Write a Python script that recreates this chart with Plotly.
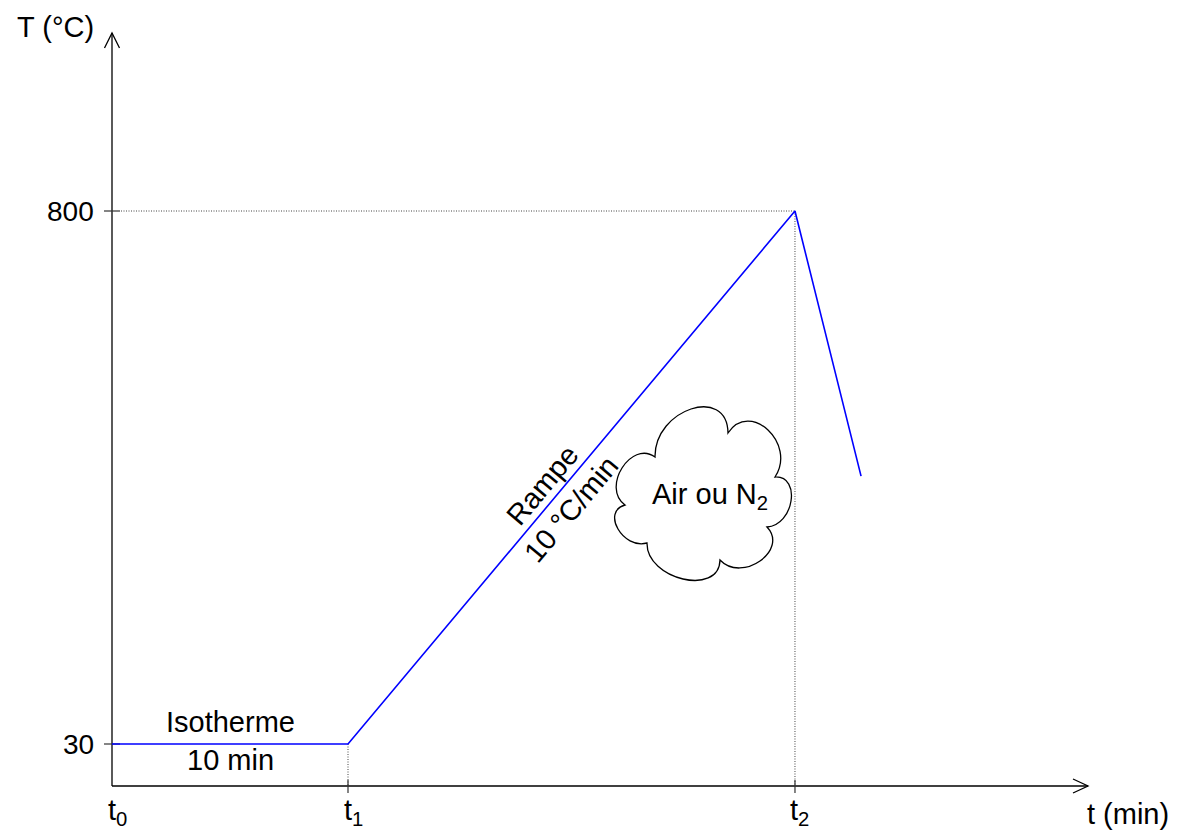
import plotly.graph_objects as go

# ---- data (schematic thermal programme) ----
time_pts = [0, 10, 28.94, 31.74]        # t0, t1, t2, end of cooling (schematic units)
temp_pts = [30, 30, 800, 417]           # °C
tick_times = [0, 10, 28.94]
tick_time_labels = ["t<sub>0</sub>", "t<sub>1</sub>", "t<sub>2</sub>"]
temp_ticks = [30, 800]
temp_tick_labels = ["30", "800"]

# ---- scale helpers (pixel <-> data for decorations) ----
W, H = 1179, 830
X0PX = 112.0
PXX = 23.6             # pixels per time unit
Y30PX = 744.0
PXT = 533.0 / 770.0    # pixels per °C


def px_x(px):
    return (px - X0PX) / PXX


def px_T(py):
    return 30 + (Y30PX - py) / PXT


def dx(p):
    return p / PXX


def dT(p):
    return p / PXT


T_axis = px_T(786)
T_top = px_T(33)
x_end = px_x(1088)

FONT = dict(family="Liberation Sans, Arial, sans-serif", size=29, color="black")
NUMFONT = dict(family="Liberation Sans, Arial, sans-serif", size=28, color="black")
AX = dict(color="black", width=1.3)

fig = go.Figure()
fig.add_trace(go.Scatter(x=time_pts, y=temp_pts, mode="lines",
                         line=dict(color="#0000ff", width=1.6),
                         hoverinfo="skip", showlegend=False))

shapes = []
# axes
shapes.append(dict(type="line", x0=0, x1=0, y0=T_axis, y1=T_top, line=AX, layer="below"))
shapes.append(dict(type="line", x0=0, x1=x_end, y0=T_axis, y1=T_axis, line=AX, layer="below"))
# arrow heads (open chevrons)
shapes.append(dict(type="path", layer="below", line=AX,
                   path=f"M{-dx(7.5)},{T_top - dT(15)} L0,{T_top} L{dx(7.5)},{T_top - dT(15)}"))
shapes.append(dict(type="path", layer="below", line=AX,
                   path=f"M{x_end - dx(15)},{T_axis + dT(7)} L{x_end},{T_axis} L{x_end - dx(15)},{T_axis - dT(7)}"))
# ticks
for T in temp_ticks:
    shapes.append(dict(type="line", layer="below", x0=-dx(8), x1=dx(8), y0=T, y1=T,
                       line=dict(color="#333", width=1.2)))
for t in tick_times[1:]:
    shapes.append(dict(type="line", layer="below", x0=t, x1=t, y0=T_axis - dT(7), y1=T_axis + dT(6),
                       line=dict(color="#333", width=1.2)))
# dotted guides
DOT = dict(color="#444", width=1, dash="1px,1.5px")
shapes.append(dict(type="line", layer="below", x0=dx(9), x1=time_pts[2], y0=temp_pts[2], y1=temp_pts[2], line=DOT))
shapes.append(dict(type="line", layer="below", x0=time_pts[2], x1=time_pts[2], y0=temp_pts[2], y1=T_axis, line=DOT))
shapes.append(dict(type="line", layer="below", x0=time_pts[1], x1=time_pts[1], y0=temp_pts[1], y1=T_axis, line=DOT))

# cloud outline (notches and bump apexes in pixels)
notches = [(655, 457), (728, 433), (775, 477), (767, 527), (720, 560), (647, 543), (625, 505)]
apexes = [(691, 409), (768, 430), (791, 501), (760, 561), (683, 579), (618, 529), (622, 468)]
path = f"M{px_x(notches[0][0])},{px_T(notches[0][1])}"
n = len(notches)
for i in range(n):
    P = notches[i]
    Q = notches[(i + 1) % n]
    M = apexes[i]
    mx, my = (P[0] + Q[0]) / 2, (P[1] + Q[1]) / 2
    hx, hy = (M[0] - mx) * 4 / 3, (M[1] - my) * 4 / 3
    c1 = (P[0] + hx, P[1] + hy)
    c2 = (Q[0] + hx, Q[1] + hy)
    path += (f" C{px_x(c1[0])},{px_T(c1[1])} {px_x(c2[0])},{px_T(c2[1])} "
             f"{px_x(Q[0])},{px_T(Q[1])}")
path += " Z"
shapes.append(dict(type="path", path=path, fillcolor="white",
                   line=dict(color="black", width=1.3), layer="above"))

annotations = []
for T, lab in zip(temp_ticks, temp_tick_labels):
    annotations.append(dict(x=0, y=T, text=lab, showarrow=False, xanchor="right",
                            yanchor="middle", xshift=-16, font=NUMFONT))
for t, lab in zip(tick_times, tick_time_labels):
    annotations.append(dict(x=t, y=T_axis, text=lab, showarrow=False, xanchor="center",
                            yanchor="top", yshift=-6, xshift=5, font=FONT))
annotations.append(dict(x=px_x(55), y=px_T(27), text="T (°C)", showarrow=False,
                        xanchor="center", yanchor="middle", font=FONT))
annotations.append(dict(x=px_x(1128), y=px_T(814), text="t (min)", showarrow=False,
                        xanchor="center", yanchor="middle", font=FONT))
iso_mid = (time_pts[0] + time_pts[1]) / 2
annotations.append(dict(x=iso_mid, y=temp_pts[0], text="Isotherme", showarrow=False,
                        xanchor="center", yanchor="middle", yshift=22, font=FONT))
annotations.append(dict(x=iso_mid, y=temp_pts[0], text="10 min", showarrow=False,
                        xanchor="center", yanchor="middle", yshift=-16, font=FONT))
annotations.append(dict(x=px_x(557), y=px_T(497), text="Rampe<br>10 °C/min", showarrow=False,
                        xanchor="center", yanchor="middle", textangle=-50, font=FONT))
annotations.append(dict(x=px_x(710), y=px_T(496), text="Air ou N<sub>2</sub>", showarrow=False,
                        xanchor="center", yanchor="middle", font=FONT))

fig.update_layout(
    width=W, height=H,
    margin=dict(l=0, r=0, t=0, b=0),
    paper_bgcolor="white", plot_bgcolor="white",
    xaxis=dict(visible=False, range=[px_x(0), px_x(W)], fixedrange=True),
    yaxis=dict(visible=False, range=[px_T(H), px_T(0)], fixedrange=True),
    shapes=shapes, annotations=annotations, showlegend=False,
)

fig.write_html("out.html", config={"displayModeBar": False},
               post_script="document.body.style.margin='0';document.body.style.overflow='hidden';")
